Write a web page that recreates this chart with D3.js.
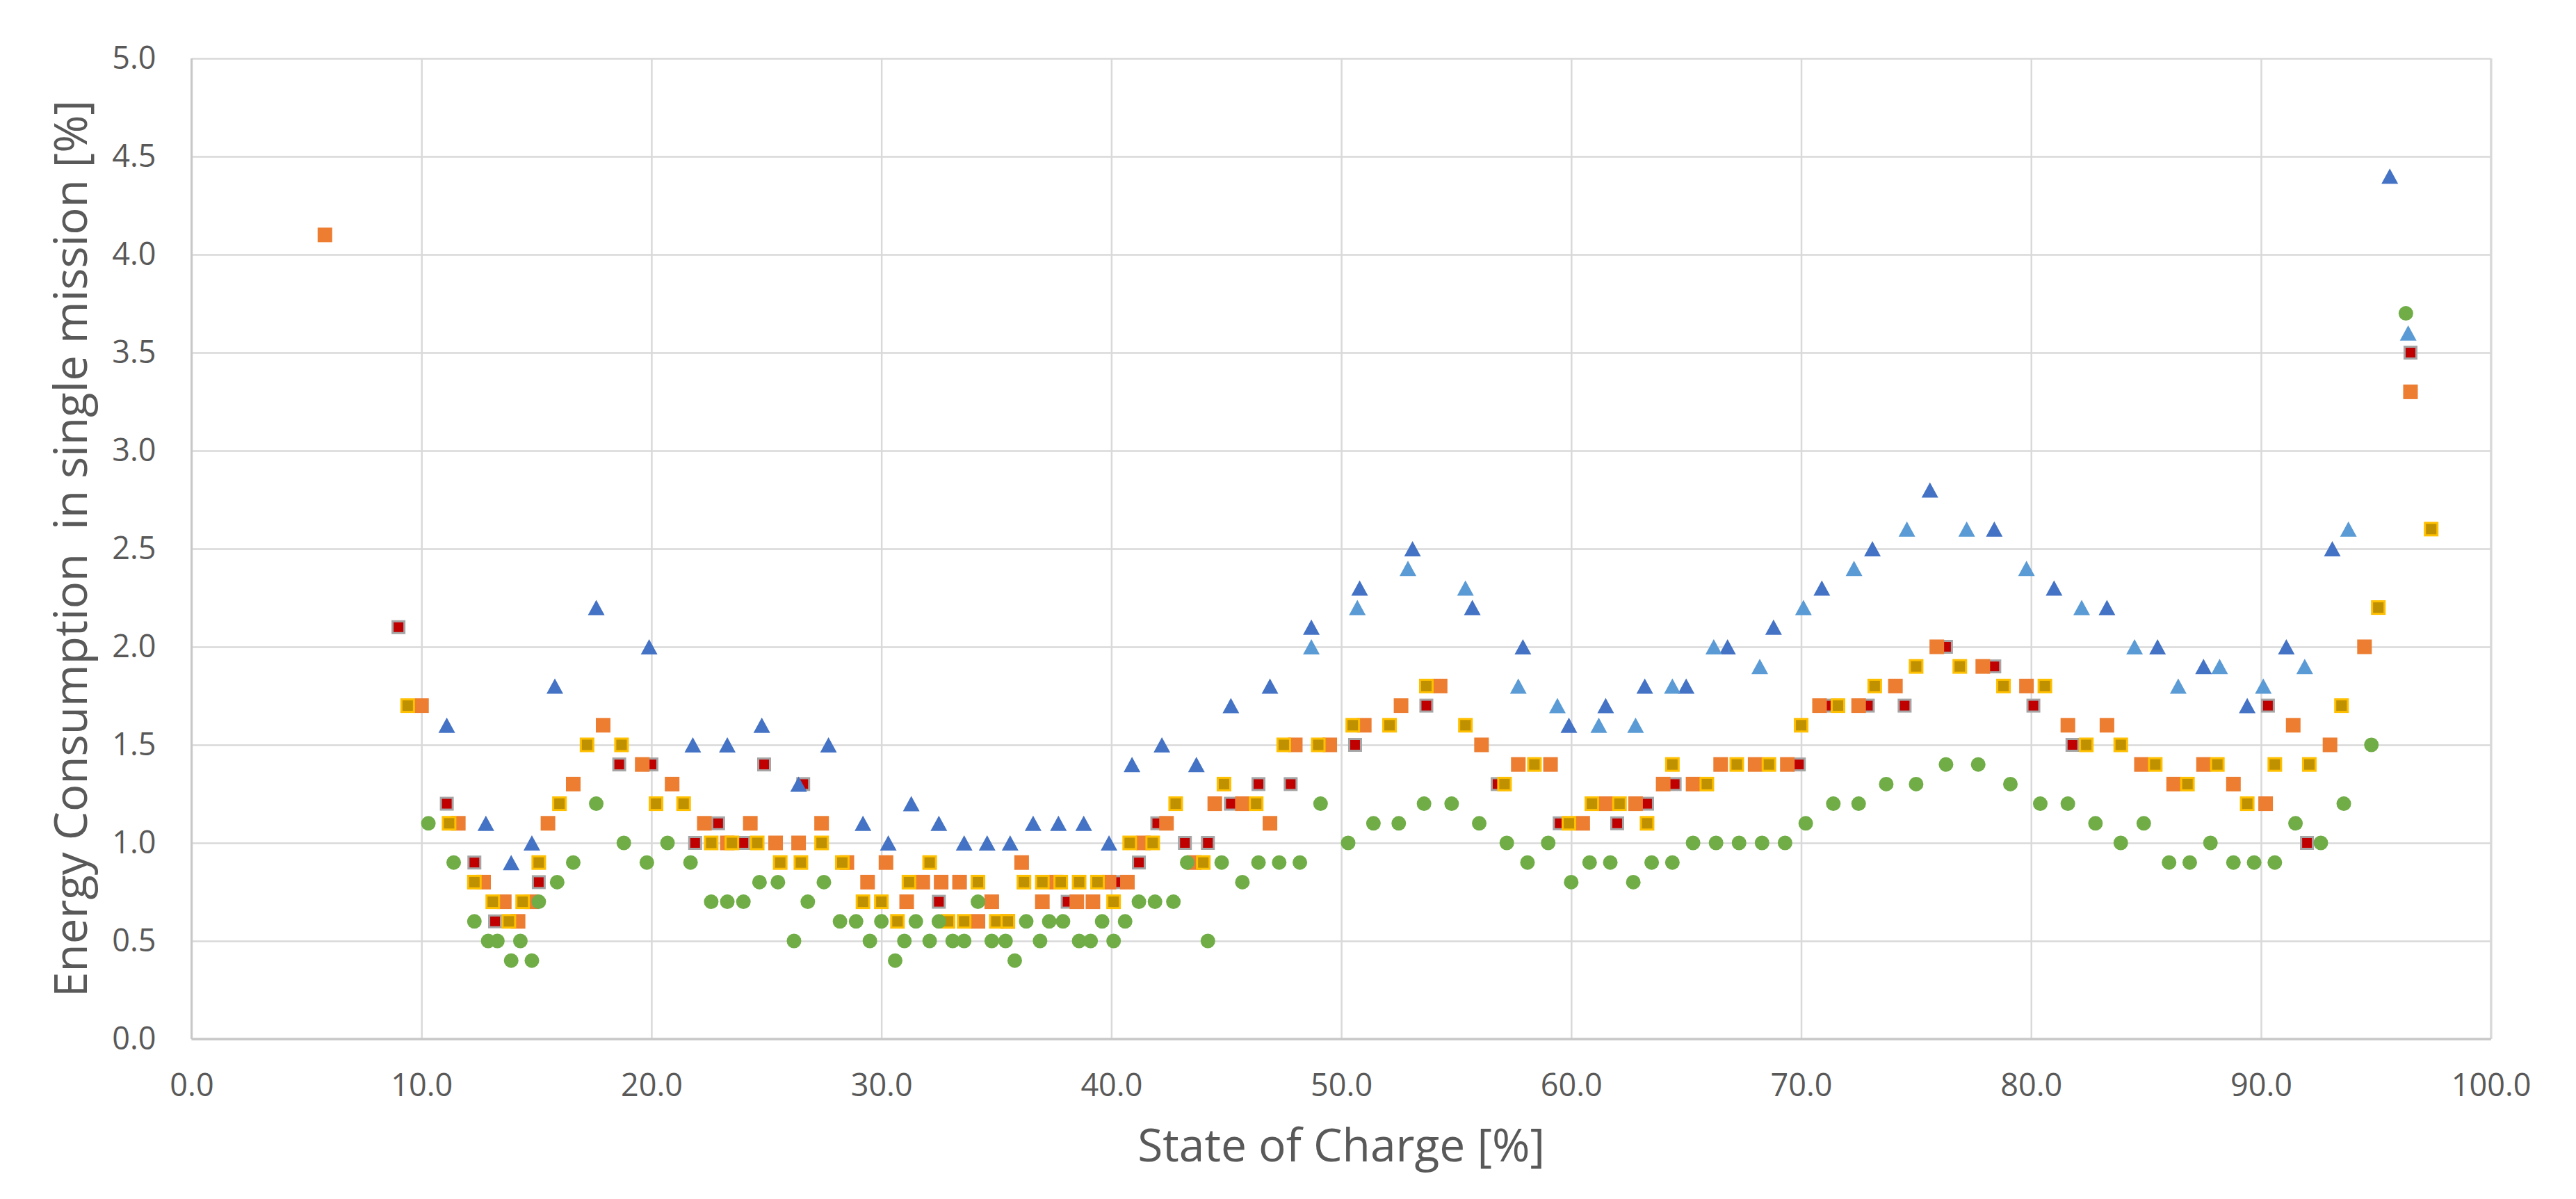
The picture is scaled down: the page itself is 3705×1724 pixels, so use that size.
<!DOCTYPE html>
<html>
<head>
<meta charset="utf-8">
<script src="https://cdn.jsdelivr.net/npm/d3@7"></script>
<style>
html,body{margin:0;padding:0;background:#ffffff;}
svg{display:block;}
text{font-family:"Open Sans","Noto Sans",sans-serif;fill:#595959;}
</style>
</head>
<body>
<svg id="chart" width="3705" height="1724"></svg>
<script>
// ---------- tick labels ----------
const xTicks = [0,10,20,30,40,50,60,70,80,90,100];
const yTicks = [0,0.5,1,1.5,2,2.5,3,3.5,4,4.5,5];
const xTitle = "State of Charge [%]";
const yTitle = "Energy Consumption  in single mission [%]";

// ---------- series: dark blue triangles ----------
const darkBlueX = [11.1,12.8,13.9,14.8,15.8,17.6,19.9,21.8,23.3,24.8,26.4,27.7,29.2,30.3,31.3,32.5,33.6,34.6,35.6,36.6,37.7,38.8,39.9,40.9,42.2,43.7,45.2,46.9,48.7,50.8,53.1,55.7,57.9,59.9,61.5,63.2,65.0,66.8,68.8,70.9,73.1,75.6,78.4,81.0,83.3,85.5,87.5,89.4,91.1,93.1,95.6];
const darkBlueY = [1.6,1.1,0.9,1.0,1.8,2.2,2.0,1.5,1.5,1.6,1.3,1.5,1.1,1.0,1.2,1.1,1.0,1.0,1.0,1.1,1.1,1.1,1.0,1.4,1.5,1.4,1.7,1.8,2.1,2.3,2.5,2.2,2.0,1.6,1.7,1.8,1.8,2.0,2.1,2.3,2.5,2.8,2.6,2.3,2.2,2.0,1.9,1.7,2.0,2.5,4.4];

// ---------- series: light blue triangles ----------
const lightBlueX = [48.7,50.7,52.9,55.4,57.7,59.4,61.2,62.8,64.4,66.2,68.2,70.1,72.3,74.6,77.2,79.8,82.2,84.5,86.4,88.2,90.1,91.9,93.8,96.4];
const lightBlueY = [2.0,2.2,2.4,2.3,1.8,1.7,1.6,1.6,1.8,2.0,1.9,2.2,2.4,2.6,2.6,2.4,2.2,2.0,1.8,1.9,1.8,1.9,2.6,3.6];

// ---------- series: orange squares ----------
const orangeX = [5.8,10.0,11.6,12.7,13.6,14.2,14.8,15.5,16.6,17.9,19.6,20.9,22.3,23.3,24.3,25.4,26.4,27.4,28.5,29.4,30.2,31.1,31.8,32.6,33.4,34.2,34.8,35.5,36.1,37.0,37.6,38.5,39.2,39.9,40.7,41.4,42.4,43.6,44.5,45.7,46.9,48.0,49.5,51.0,52.6,54.3,56.1,57.7,59.1,60.5,61.5,62.8,64.0,65.3,66.5,68.0,69.4,70.8,72.5,74.1,75.9,77.9,79.8,81.6,83.3,84.8,86.2,87.5,88.8,90.2,91.4,93.0,94.5,96.5];
const orangeY = [4.1,1.7,1.1,0.8,0.7,0.6,0.7,1.1,1.3,1.6,1.4,1.3,1.1,1.0,1.1,1.0,1.0,1.1,0.9,0.8,0.9,0.7,0.8,0.8,0.8,0.6,0.7,0.6,0.9,0.7,0.8,0.7,0.7,0.8,0.8,1.0,1.1,0.9,1.2,1.2,1.1,1.5,1.5,1.6,1.7,1.8,1.5,1.4,1.4,1.1,1.2,1.2,1.3,1.3,1.4,1.4,1.4,1.7,1.7,1.8,2.0,1.9,1.8,1.6,1.6,1.4,1.3,1.4,1.3,1.2,1.6,1.5,2.0,3.3];

// ---------- series: dark red squares ----------
const redX = [9.0,11.1,12.3,13.2,15.1,18.6,20.0,21.9,22.9,24.0,24.9,26.6,32.5,38.1,40.3,41.2,42.0,43.2,44.2,45.2,46.4,47.8,50.6,53.7,56.8,59.5,62.0,63.3,64.5,69.9,71.3,72.9,74.5,76.3,78.4,80.1,81.8,90.3,92.0,96.5];
const redY = [2.1,1.2,0.9,0.6,0.8,1.4,1.4,1.0,1.1,1.0,1.4,1.3,0.7,0.7,0.8,0.9,1.1,1.0,1.0,1.2,1.3,1.3,1.5,1.7,1.3,1.1,1.1,1.2,1.3,1.4,1.7,1.7,1.7,2.0,1.9,1.7,1.5,1.7,1.0,3.5];

// ---------- series: gold squares ----------
const goldX = [9.4,11.2,12.3,13.1,13.8,14.4,15.1,16.0,17.2,18.7,20.2,21.4,22.6,23.5,24.6,25.6,26.5,27.4,28.3,29.2,30.0,30.7,31.2,32.1,32.9,33.6,34.2,35.0,35.5,36.2,37.0,37.8,38.6,39.4,40.1,40.8,41.8,42.8,44.0,44.9,46.3,47.5,49.0,50.5,52.1,53.7,55.4,57.1,58.4,59.9,60.9,62.1,63.3,64.4,65.9,67.2,68.6,70.0,71.6,73.2,75.0,76.9,78.8,80.6,82.4,83.9,85.4,86.8,88.1,89.4,90.6,92.1,93.5,95.1,97.4];
const goldY = [1.7,1.1,0.8,0.7,0.6,0.7,0.9,1.2,1.5,1.5,1.2,1.2,1.0,1.0,1.0,0.9,0.9,1.0,0.9,0.7,0.7,0.6,0.8,0.9,0.6,0.6,0.8,0.6,0.6,0.8,0.8,0.8,0.8,0.8,0.7,1.0,1.0,1.2,0.9,1.3,1.2,1.5,1.5,1.6,1.6,1.8,1.6,1.3,1.4,1.1,1.2,1.2,1.1,1.4,1.3,1.4,1.4,1.6,1.7,1.8,1.9,1.9,1.8,1.8,1.5,1.5,1.4,1.3,1.4,1.2,1.4,1.4,1.7,2.2,2.6];

// ---------- series: green circles ----------
const greenX = [10.3,11.4,12.3,12.9,13.3,13.9,14.3,14.8,15.1,15.9,16.6,17.6,18.8,19.8,20.7,21.7,22.6,23.3,24.0,24.7,25.5,26.2,26.8,27.5,28.2,28.9,29.5,30.0,30.6,31.0,31.5,32.1,32.5,33.1,33.6,34.2,34.8,35.4,35.8,36.3,36.9,37.3,37.9,38.6,39.1,39.6,40.1,40.6,41.2,41.9,42.7,43.3,44.2,44.8,45.7,46.4,47.3,48.2,49.1,50.3,51.4,52.5,53.6,54.8,56.0,57.2,58.1,59.0,60.0,60.8,61.7,62.7,63.5,64.4,65.3,66.3,67.3,68.3,69.3,70.2,71.4,72.5,73.7,75.0,76.3,77.7,79.1,80.4,81.6,82.8,83.9,84.9,86.0,86.9,87.8,88.8,89.7,90.6,91.5,92.6,93.6,94.8,96.3];
const greenY = [1.1,0.9,0.6,0.5,0.5,0.4,0.5,0.4,0.7,0.8,0.9,1.2,1.0,0.9,1.0,0.9,0.7,0.7,0.7,0.8,0.8,0.5,0.7,0.8,0.6,0.6,0.5,0.6,0.4,0.5,0.6,0.5,0.6,0.5,0.5,0.7,0.5,0.5,0.4,0.6,0.5,0.6,0.6,0.5,0.5,0.6,0.5,0.6,0.7,0.7,0.7,0.9,0.5,0.9,0.8,0.9,0.9,0.9,1.2,1.0,1.1,1.1,1.2,1.2,1.1,1.0,0.9,1.0,0.8,0.9,0.9,0.8,0.9,0.9,1.0,1.0,1.0,1.0,1.0,1.1,1.2,1.2,1.3,1.3,1.4,1.4,1.3,1.2,1.2,1.1,1.0,1.1,0.9,0.9,1.0,0.9,0.9,0.9,1.1,1.0,1.2,1.5,3.7];

// ---------- layout ----------
const W = 3705, H = 1724;
const plot = {left: 275.5, right: 3582.7, top: 84, bottom: 1494};
const svg = d3.select("#chart");

const x = d3.scaleLinear().domain([0, 100]).range([plot.left, plot.right]);
const y = d3.scaleLinear().domain([0, 5]).range([plot.bottom, plot.top]);

// gridlines
const gridColor = "#D9D9D9";
const gx = svg.append("g").attr("transform", `translate(0,${plot.bottom})`)
  .call(d3.axisBottom(x).tickValues(xTicks).tickSize(-(plot.bottom - plot.top)).tickFormat(""));
const gy = svg.append("g").attr("transform", `translate(${plot.left},0)`)
  .call(d3.axisLeft(y).tickValues(yTicks).tickSize(-(plot.right - plot.left)).tickFormat(""));
[gx, gy].forEach(g => {
  g.select(".domain").remove();
  g.selectAll(".tick line").attr("stroke", gridColor).attr("stroke-width", 2.5);
});
// plot frame (axis lines)
svg.append("line").attr("x1", plot.left).attr("x2", plot.left).attr("y1", plot.top).attr("y2", plot.bottom)
  .attr("stroke", "#C8C8C8").attr("stroke-width", 3);
svg.append("line").attr("x1", plot.right).attr("x2", plot.right).attr("y1", plot.top).attr("y2", plot.bottom)
  .attr("stroke", "#D9D9D9").attr("stroke-width", 3);
svg.append("line").attr("x1", plot.left).attr("x2", plot.right).attr("y1", plot.bottom).attr("y2", plot.bottom)
  .attr("stroke", "#C8C8C8").attr("stroke-width", 3.5);

// tick labels
const fmt = d3.format(".1f");
const ax = svg.append("g").attr("transform", `translate(0,${plot.bottom})`)
  .call(d3.axisBottom(x).tickValues(xTicks).tickSize(0).tickPadding(50).tickFormat(fmt));
const ay = svg.append("g").attr("transform", `translate(${plot.left},0)`)
  .call(d3.axisLeft(y).tickValues(yTicks).tickSize(0).tickPadding(51).tickFormat(fmt));
[ax, ay].forEach(g => {
  g.select(".domain").remove();
  g.selectAll("text").attr("font-size", 45).attr("fill", "#595959")
    .attr("font-family", '"Open Sans","Noto Sans",sans-serif');
});

// axis titles, fitted to the measured lengths of the reference
function fitText(sel, target) {
  const len = sel.node().getComputedTextLength();
  const fs = parseFloat(sel.attr("font-size"));
  sel.attr("font-size", fs * target / len);
}
const xt = svg.append("text").attr("x", (plot.left + plot.right) / 2).attr("y", 1670)
  .attr("text-anchor", "middle").attr("font-size", 62).text(xTitle);
fitText(xt, 586);
const yt = svg.append("text").attr("transform", `translate(125,${(plot.top + plot.bottom) / 2}) rotate(-90)`)
  .attr("text-anchor", "middle").attr("font-size", 62)
  .attr("xml:space", "preserve").style("white-space", "pre").text(yTitle);
fitText(yt, 1290);

// ---------- markers ----------
const zip = (xs, ys) => xs.map((v, i) => ({x: v, y: ys[i]}));
const triType = {draw(ctx, size) { const w = 24, h = 22; ctx.moveTo(0, -h/2); ctx.lineTo(w/2, h/2); ctx.lineTo(-w/2, h/2); ctx.closePath(); }};
const marks = svg.append("g");

function drawSquares(data, side, fill, stroke, sw) {
  marks.append("g").selectAll("rect").data(data).join("rect")
    .attr("x", d => x(d.x) - side/2).attr("y", d => y(d.y) - side/2)
    .attr("width", side).attr("height", side)
    .attr("fill", fill).attr("stroke", stroke || "none").attr("stroke-width", sw || 0);
}
function drawTriangles(data, fill) {
  marks.append("g").selectAll("path").data(data).join("path")
    .attr("d", d3.symbol().type(triType))
    .attr("transform", d => `translate(${x(d.x)},${y(d.y)})`)
    .attr("fill", fill);
}

drawSquares(zip(redX, redY), 17, "#C00000", "#A5A5A5", 3);
drawSquares(zip(orangeX, orangeY), 21, "#ED7D31");
drawSquares(zip(goldX, goldY), 18, "#BF9000", "#FFC000", 3);
drawTriangles(zip(darkBlueX, darkBlueY), "#4472C4");
drawTriangles(zip(lightBlueX, lightBlueY), "#5B9BD5");
marks.append("g").selectAll("circle").data(zip(greenX, greenY)).join("circle")
  .attr("cx", d => x(d.x)).attr("cy", d => y(d.y)).attr("r", 10.5).attr("fill", "#70AD47");
</script>
</body>
</html>
